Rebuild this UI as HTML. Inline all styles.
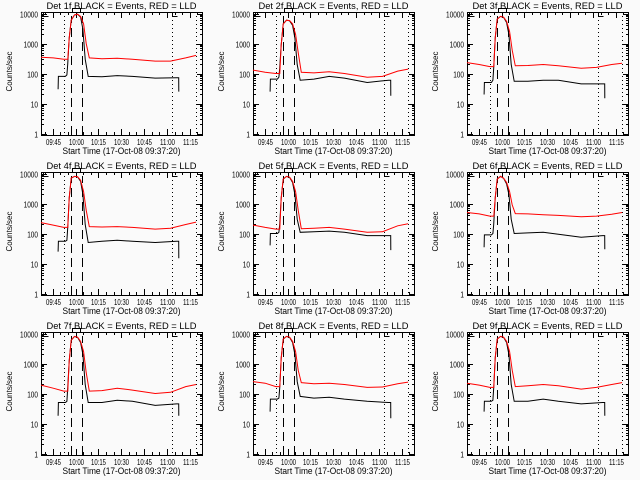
<!DOCTYPE html>
<html><head><meta charset="utf-8"><style>
html,body{margin:0;padding:0;background:#fafafa;}
svg{display:block;font-family:"Liberation Sans",sans-serif;}
</style></head><body>
<svg id="c" width="640" height="480" xmlns="http://www.w3.org/2000/svg"></svg>
<script>
const detNames = ["1f","2f","3f","4f","5f","6f","7f","8f","9f"];
const xTickLabels = ["09:45","10:00","10:15","10:30","10:45","11:00","11:15"];
const xTickMinutes = [7.667,22.667,37.667,52.667,67.667,82.667,97.667];
const yTickLabels = ["1","10","100","1000","10000"];
const yTickValues = [1,10,100,1000,10000];
const dottedMinutes = [15.2,85.9,101.8];
const dashedMinutes = [19.8,27.1];
const redT = [0,8,15,17.6,18.5,19.8,22,24,26,28,29.7,31.7,40,50,60,75,85,95,101.8];
const red1 = [350,330,300,300,1500,6000,9000,9500,8000,4500,1000,330,310,320,300,260,260,330,400];
const red2 = [130,110,100,100,900,4500,6000,5800,4500,2000,500,110,105,115,100,75,80,120,140];
const red3 = [230,200,170,170,1500,6500,8000,7500,5500,2500,600,180,185,200,180,150,160,200,220];
const red4 = [230,190,160,160,1500,7000,8000,7800,6000,2500,600,170,165,170,160,140,150,200,240];
const red5 = [190,160,140,140,1500,6500,8000,7500,5500,2500,600,145,150,160,140,110,115,180,210];
const red6 = [500,450,380,380,1500,6500,8000,7000,5000,2500,900,460,450,420,400,360,380,440,500];
const red7 = [190,150,120,120,1200,6000,8000,7500,5500,2500,500,120,125,150,130,100,110,170,200];
const red8 = [250,220,170,170,1500,6500,8000,7500,5500,2500,600,230,210,220,200,160,165,210,240];
const red9 = [220,190,160,160,1500,6500,8000,7500,5500,2500,600,170,180,200,180,140,160,200,230];
const blackT = [11.2,11.4,16,17,17.5,18.5,19.8,22,24,26,27.5,29,31,40,50,60,75,89,90.4,90.5];
const black1 = [30,80,80,90,200,1500,6000,9000,9400,7500,3000,300,80,78,85,80,70,72,72,25];
const black2 = [25,65,65,75,150,900,4500,6000,5700,4000,1500,200,60,65,80,70,50,60,60,18];
const black3 = [20,50,50,60,150,1500,6500,8000,7400,5000,2000,200,55,55,60,60,45,45,45,15];
const black4 = [25,55,55,60,150,1500,7000,8000,7700,5500,2000,200,50,55,60,55,50,55,55,15];
const black5 = [40,100,100,110,200,1500,6500,8000,7400,5000,2000,300,110,115,120,110,85,85,85,28];
const black6 = [35,90,90,100,200,1500,6500,8000,6900,4500,2000,300,100,105,110,95,75,85,85,30];
const black7 = [18,50,50,55,150,1200,6000,8000,7400,5000,2000,200,50,50,60,55,40,45,45,18];
const black8 = [25,65,65,70,150,1500,6500,8000,7400,5000,2000,250,80,70,75,65,55,50,50,15];
const black9 = [25,55,55,60,150,1500,6500,8000,7400,5000,2000,200,55,55,65,55,45,50,50,18];
const reds = [red1,red2,red3,red4,red5,red6,red7,red8,red9];
const blacks = [black1,black2,black3,black4,black5,black6,black7,black8,black9];

const NS="http://www.w3.org/2000/svg";
const svg=document.getElementById('c');
function mk(tag,attrs,parent){const e=document.createElementNS(NS,tag);for(const k in attrs)e.setAttribute(k,attrs[k]);(parent||svg).appendChild(e);return e;}
const colL=[41,253,467], rowT=[12,172,332];
const W=161, H=123, TMAX=105.7;
for(let p=0;p<9;p++){
  const L=colL[p%3], T=rowT[Math.floor(p/3)];
  const g=mk('g',{});
  
  
  const xs=t=>L+t*W/TMAX;
  const ys=v=>T+121.5-30*Math.log10(v);
  const tt=mk('text',{x:L+W/2,y:T-3,'text-anchor':'middle','font-size':'9.5',textLength:150,lengthAdjust:'spacingAndGlyphs'},g);
  tt.textContent='Det '+detNames[p]+' BLACK = Events, RED = LLD';
  
  
  const box=mk('rect',{x:L+0.5,y:T+0.5,width:W,height:H,fill:'none',stroke:'#000','stroke-width':1},g);
  
  
  for(let d=0;d<5;d++){
    const v=yTickValues[d], y=Math.round(ys(v))+0.5;
    mk('line',{x1:L,x2:L+6,y1:y,y2:y,stroke:'#000'},g);
    mk('line',{x1:L+W-5,x2:L+W,y1:y,y2:y,stroke:'#000'},g);
    const lb=mk('text',{x:L-3,y:y+3,'text-anchor':'end','font-size':'8',textLength:3.6*yTickLabels[d].length,lengthAdjust:'spacingAndGlyphs'},g);
    lb.textContent=yTickLabels[d];
    
    
    if(d<4)for(let m=2;m<10;m++){const ym=Math.round(ys(v*m))+0.5;
      mk('line',{x1:L,x2:L+3,y1:ym,y2:ym,stroke:'#000'},g);
      mk('line',{x1:L+W-2,x2:L+W,y1:ym,y2:ym,stroke:'#000'},g);}
  }
  for(let i=0;i<xTickMinutes.length;i++){
    const x=Math.round(xs(xTickMinutes[i]))+0.5;
    mk('line',{x1:x,x2:x,y1:T+H,y2:T+H-6,stroke:'#000'},g);
    mk('line',{x1:x,x2:x,y1:T,y2:T+6,stroke:'#000'},g);
    const lb=mk('text',{x:x,y:T+H+10,'text-anchor':'middle','font-size':'8',textLength:15,lengthAdjust:'spacingAndGlyphs'},g);
    lb.textContent=xTickLabels[i];
    
    
  }
  for(let t=2.667;t<TMAX;t+=5){const x=Math.round(xs(t))+0.5;
    mk('line',{x1:x,x2:x,y1:T+H,y2:T+H-3,stroke:'#000'},g);
    mk('line',{x1:x,x2:x,y1:T,y2:T+3,stroke:'#000'},g);}
  const xt=mk('text',{x:L+W/2,y:T+H+19,'text-anchor':'middle','font-size':'9',textLength:118,lengthAdjust:'spacingAndGlyphs'},g);
  xt.textContent='Start Time (17-Oct-08 09:37:20)';
  
  
  const yt=mk('text',{x:0,y:0,'text-anchor':'middle','font-size':'8',textLength:40,lengthAdjust:'spacingAndGlyphs',transform:`translate(${L-29},${T+H/2-2}) rotate(-90)`},g);
  yt.textContent='Counts/sec';
  
  
  for(const m of dottedMinutes){const x=Math.round(xs(m))+0.5;
    const l=mk('line',{x1:x,x2:x,y1:T,y2:T+H,stroke:'#000','stroke-dasharray':'1,3'},g);
    
    }
  for(const m of dashedMinutes){const x=Math.round(xs(m))+0.5;
    const l=mk('line',{x1:x,x2:x,y1:T+H,y2:T+4,stroke:'#000','stroke-dasharray':'9,5'},g);
    
    }
  const b1=Math.round(xs(1.2))+0.5, b2=Math.round(xs(85.9))+0.5, b3=Math.round(xs(20.5))+0.5, b4=Math.round(xs(25.5))+0.5;
  mk('path',{d:`M${b1},${T} V${T+4.5} H${b1+5}`,fill:'none',stroke:'#000'},g);
  mk('path',{d:`M${b2},${T} V${T+4.5} H${b2+5}`,fill:'none',stroke:'#000'},g);
  mk('path',{d:`M${b3},${T} V${T-3.5} H${b4} V${T}`,fill:'none',stroke:'#000'},g);
  const bk=mk('polyline',{points:blackT.map((t,i)=>xs(t).toFixed(1)+','+ys(blacks[p][i]).toFixed(1)).join(' '),fill:'none',stroke:'#000','stroke-width':1},g);
  
  
  const rd=mk('polyline',{points:redT.map((t,i)=>xs(t).toFixed(1)+','+ys(reds[p][i]).toFixed(1)).join(' '),fill:'none',stroke:'#ff0000','stroke-width':1},g);
  
  
}
</script>
</body></html>
